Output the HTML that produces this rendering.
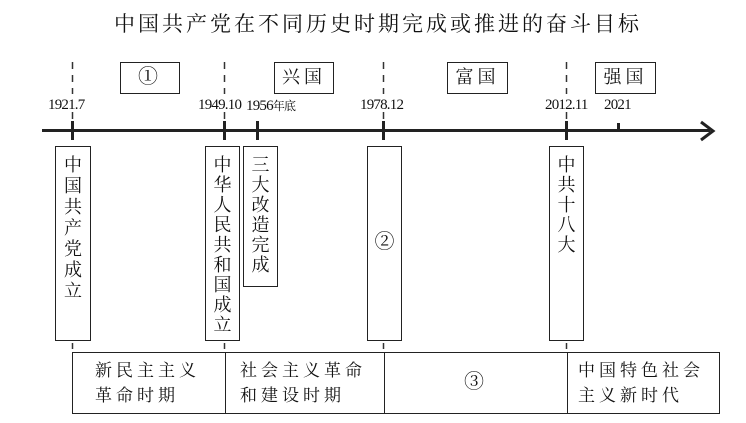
<!DOCTYPE html>
<html><head><meta charset="utf-8"><style>
body{margin:0;width:746px;height:423px;background:#fff;position:relative;overflow:hidden;font-family:"Liberation Serif","Noto Serif CJK SC",serif;color:#111}
.a{position:absolute}
.box{position:absolute;border:1.5px solid #222;box-sizing:border-box;border-radius:2px}
.v{position:absolute;border:1.5px solid #222;box-sizing:border-box;text-align:center;font-size:18px;line-height:20px;padding-top:8px;top:146px}
.lab{position:absolute;font-size:15px;top:97px;letter-spacing:-0.8px}
.top{position:absolute;top:62px;height:32px;border:1.5px solid #222;box-sizing:border-box;font-size:18px;line-height:29px;text-align:center;letter-spacing:4px}
.dash{position:absolute;width:0;border-left:1.5px dashed #333}
.tick{position:absolute;width:3px;background:#222;top:121px;height:19px}
.cell{position:absolute;top:0;height:100%;font-size:17px;line-height:25px;letter-spacing:4px;padding-top:5px;box-sizing:border-box}
</style></head><body>
<div class="a" style="left:0;width:746px;top:8px;text-align:center;font-size:21px;letter-spacing:3px;padding-left:10px;box-sizing:border-box">中国共产党在不同历史时期完成或推进的奋斗目标</div>

<svg class="a" style="left:0;top:0" width="746" height="423">
<g stroke="#333" stroke-width="1.5" stroke-dasharray="7,6">
<line x1="72.5" y1="62" x2="72.5" y2="94"/><line x1="224.5" y1="62" x2="224.5" y2="94"/>
<line x1="383.5" y1="62" x2="383.5" y2="94"/><line x1="566.5" y1="62" x2="566.5" y2="94"/>
</g>
<g stroke="#333" stroke-width="1.5">
<line x1="72.5" y1="112" x2="72.5" y2="119"/><line x1="224.5" y1="112" x2="224.5" y2="119"/>
<line x1="383.5" y1="112" x2="383.5" y2="119"/><line x1="566.5" y1="112" x2="566.5" y2="119"/>
<line x1="72.5" y1="343" x2="72.5" y2="349"/><line x1="224.5" y1="343" x2="224.5" y2="349"/>
<line x1="383.5" y1="343" x2="383.5" y2="349"/><line x1="566.5" y1="343" x2="566.5" y2="349"/>
</g>
</svg>

<div class="top" style="left:120px;width:60px;font-size:20px">①</div>
<div class="top" style="left:274px;width:60px">兴国</div>
<div class="top" style="left:447px;width:61px">富国</div>
<div class="top" style="left:595px;width:61px">强国</div>

<div class="lab" style="left:48px">1921.7</div>
<div class="lab" style="left:198px">1949.10</div>
<div class="lab" style="left:246px">1956<span style="font-size:12px">年底</span></div>
<div class="lab" style="left:360px">1978.12</div>
<div class="lab" style="left:545px">2012.11</div>
<div class="lab" style="left:604px">2021</div>

<div class="a" style="left:42px;top:129px;width:668px;height:3px;background:#222"></div>
<svg class="a" style="left:698px;top:120px" width="20" height="22"><polyline points="3,2 15,11 3,20" fill="none" stroke="#222" stroke-width="3"/></svg>
<div class="tick" style="left:71px"></div>
<div class="tick" style="left:223px"></div>
<div class="tick" style="left:256px"></div>
<div class="tick" style="left:382px"></div>
<div class="tick" style="left:565px"></div>
<div class="tick" style="left:617px;top:123px;height:8px"></div>

<div class="v" style="left:55px;width:36px;height:195px;line-height:21px">中<br>国<br>共<br>产<br>党<br>成<br>立</div>
<div class="v" style="left:205px;width:35px;height:195px">中<br>华<br>人<br>民<br>共<br>和<br>国<br>成<br>立</div>
<div class="v" style="left:243px;width:35px;height:141px">三<br>大<br>改<br>造<br>完<br>成</div>
<div class="v" style="left:367px;width:35px;height:195px;padding-top:85px;font-size:20px">②</div>
<div class="v" style="left:549px;width:35px;height:195px">中<br>共<br>十<br>八<br>大</div>

<div class="box" style="left:72px;top:352px;width:648px;height:62px;border-radius:0">
 <div class="cell" style="left:0;width:152px;padding-left:22px">新民主主义<br>革命时期</div>
 <div class="cell" style="left:152px;width:159px;border-left:1.5px solid #222;padding-left:14px">社会主义革命<br>和建设时期</div>
 <div class="cell" style="left:311px;width:183px;border-left:1.5px solid #222;text-align:center;padding-top:17px;font-size:20px">③</div>
 <div class="cell" style="left:494px;width:152px;border-left:1.5px solid #222;padding-left:10px">中国特色社会<br>主义新时代</div>
</div>
</body></html>
